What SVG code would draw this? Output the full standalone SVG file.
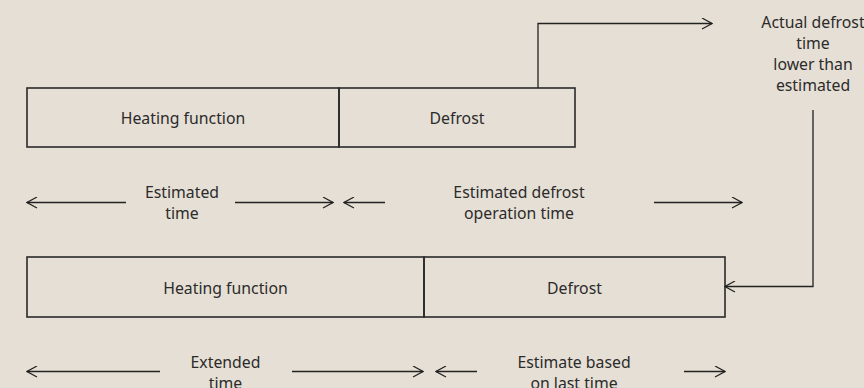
<svg xmlns="http://www.w3.org/2000/svg" width="864" height="388" viewBox="0 0 864 388">
<defs>
<marker id="ah" viewBox="0 0 12 12" refX="11" refY="6" markerWidth="12" markerHeight="12" markerUnits="userSpaceOnUse" orient="auto-start-reverse">
<path d="M1,0.5 L11,6 L1,11.5" fill="none" stroke="#222" stroke-width="1.2"/>
</marker>
<style>
.box{fill:none;stroke:#2a2a2a;stroke-width:1.6}
.ln{fill:none;stroke:#222;stroke-width:1.3}
text{font-family:"Noto Sans","Liberation Sans",sans-serif;font-size:15.8px;fill:#2b2b2b;text-anchor:middle}
</style>
</defs>
<rect width="864" height="388" fill="#e6dfd5"/>
<g id="heat1"><rect class="box" x="27" y="88" width="312" height="59"/><text x="183" y="123.5">Heating function</text></g>
<g id="defrost1"><rect class="box" x="339" y="88" width="236" height="59"/><text x="457" y="123.5">Defrost</text></g>
<g id="heat2"><rect class="box" x="27" y="257" width="397" height="60"/><text x="225.5" y="293.5">Heating function</text></g>
<g id="defrost2"><rect class="box" x="424" y="257" width="301" height="60"/><text x="574.5" y="293.5">Defrost</text></g>
<g id="note"><text x="813" y="28">Actual defrost</text><text x="813" y="49">time</text><text x="813" y="70">lower than</text><text x="813" y="91">estimated</text></g>
<g id="dim1"><text x="182" y="198">Estimated</text><text x="182" y="219">time</text></g>
<g id="dim2"><text x="519" y="198">Estimated defrost</text><text x="519" y="219">operation time</text></g>
<g id="dim3"><text x="225.5" y="367.5">Extended</text><text x="225.5" y="388.5">time</text></g>
<g id="dim4"><text x="574" y="367.5">Estimate based</text><text x="574" y="388.5">on last time</text></g>
<g id="connectors">
<path class="ln" d="M538,88 V23.5 H712" marker-end="url(#ah)"/>
<path class="ln" d="M813,110 V286.5 H725" marker-end="url(#ah)"/>
<path class="ln" d="M126,202.5 H27" marker-end="url(#ah)"/>
<path class="ln" d="M235,202.5 H333" marker-end="url(#ah)"/>
<path class="ln" d="M385,202.5 H344" marker-end="url(#ah)"/>
<path class="ln" d="M654,202.5 H742" marker-end="url(#ah)"/>
<path class="ln" d="M160,371.5 H27" marker-end="url(#ah)"/>
<path class="ln" d="M292,371.5 H423" marker-end="url(#ah)"/>
<path class="ln" d="M477,371.5 H436" marker-end="url(#ah)"/>
<path class="ln" d="M684,371.5 H725" marker-end="url(#ah)"/>
</g>
</svg>
